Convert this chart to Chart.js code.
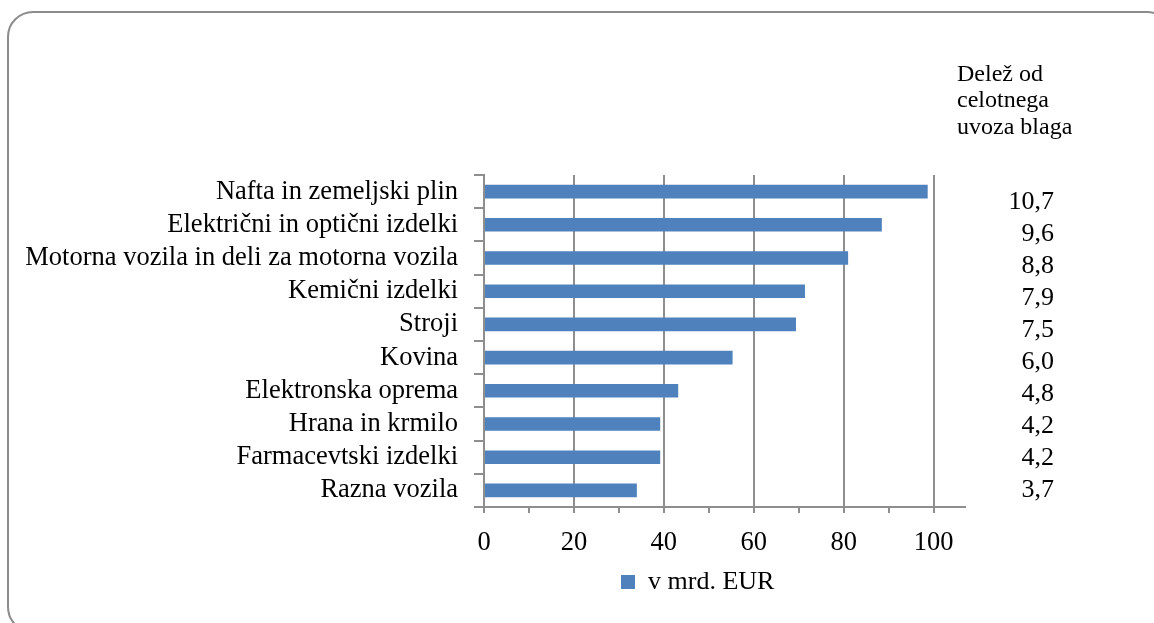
<!DOCTYPE html>
<html>
<head>
<meta charset="utf-8">
<script src="https://cdn.jsdelivr.net/npm/chart.js@4.4.1/dist/chart.umd.min.js"></script>
<style>
  html, body { margin: 0; padding: 0; background: #fff; }
  body { width: 1154px; height: 623px; overflow: hidden; position: relative; }
  #frame {
    position: absolute; left: 7px; top: 11px; width: 1166px; height: 622px;
    border: 2px solid #8c8c8c; border-radius: 26px; box-sizing: border-box;
  }
  #wrap { position: absolute; left: 0; top: 0; width: 1154px; height: 623px; }
</style>
</head>
<body>
<div id="frame"></div>
<div id="wrap"><canvas id="importChart" width="1154" height="623"></canvas></div>
<script>
// Data
const categories = [
  "Nafta in zemeljski plin",
  "Električni in optični izdelki",
  "Motorna vozila in deli za motorna vozila",
  "Kemični izdelki",
  "Stroji",
  "Kovina",
  "Elektronska oprema",
  "Hrana in krmilo",
  "Farmacevtski izdelki",
  "Razna vozila"
];
const values = [98.7, 88.5, 81.0, 71.4, 69.4, 55.3, 43.2, 39.2, 39.2, 34.0];
const shares = ["10,7", "9,6", "8,8", "7,9", "7,5", "6,0", "4,8", "4,2", "4,2", "3,7"];
const shareTitle = ["Delež od", "celotnega", "uvoza blaga"];
const seriesName = "v mrd. EUR";
const tickValues = [0, 10, 20, 30, 40, 50, 60, 70, 80, 90, 100];
const labelledTicks = [0, 20, 40, 60, 80, 100];

const FONT = "'Liberation Serif', 'Times New Roman', serif";
const GRID = "#8e8e8e";
const BLUE = "#4f81bd";

// Share column and its heading, written to the right of the plot
const sideText = {
  id: "sideText",
  afterDraw(chart) {
    const ctx = chart.ctx;
    ctx.save();
    ctx.fillStyle = "#000";
    ctx.textBaseline = "alphabetic";
    ctx.font = "24px " + FONT;
    ctx.textAlign = "left";
    shareTitle.forEach((line, i) => ctx.fillText(line, 957, 81 + i * 26.3));
    ctx.font = "26px " + FONT;
    ctx.textAlign = "right";
    shares.forEach((s, i) => ctx.fillText(s, 1054, 209 + i * 32));
    ctx.restore();
  }
};

// Move the legend under the bars like in the original slide
const legendShift = {
  id: "legendShift",
  afterLayout(chart) {
    if (chart.legend) chart.legend.left = 611;
  }
};

new Chart(document.getElementById("importChart"), {
  type: "bar",
  data: {
    labels: categories,
    datasets: [{
      label: seriesName,
      data: values,
      backgroundColor: BLUE,
      borderWidth: 0,
      barPercentage: 0.41,
      categoryPercentage: 1.0
    }]
  },
  options: {
    indexAxis: "y",
    responsive: false,
    animation: false,
    layout: { padding: { top: 175, right: 189, bottom: 18, left: 0 } },
    plugins: {
      tooltip: { enabled: false },
      legend: {
        position: "bottom",
        align: "start",
        labels: {
          font: { family: FONT, size: 26 },
          color: "#000",
          boxWidth: 14,
          boxHeight: 14,
          padding: 10
        }
      }
    },
    scales: {
      x: {
        type: "linear",
        min: 0,
        max: 107,
        afterBuildTicks: axis => { axis.ticks = tickValues.map(v => ({ value: v })); },
        afterFit: s => { s.height = 52; },
        ticks: {
          autoSkip: false,
          maxRotation: 0,
          padding: 14,
          color: "#000",
          font: { family: FONT, size: 26.5 },
          callback: v => labelledTicks.includes(v) ? String(v) : ""
        },
        grid: {
          color: c => (c.tick && labelledTicks.includes(c.tick.value)) ? GRID : "rgba(0,0,0,0)",
          tickColor: GRID,
          lineWidth: 2,
          tickLength: 6
        },
        border: { display: true, color: GRID, width: 2 }
      },
      y: {
        type: "category",
        afterFit: s => { s.width = 484; },
        ticks: {
          autoSkip: false,
          padding: 16,
          color: "#000",
          font: { family: FONT, size: 26.5 }
        },
        grid: {
          offset: true,
          drawOnChartArea: false,
          color: GRID,
          lineWidth: 2,
          tickLength: 10
        },
        border: { display: true, color: GRID, width: 2 }
      }
    }
  },
  plugins: [sideText, legendShift]
});
</script>
</body>
</html>
